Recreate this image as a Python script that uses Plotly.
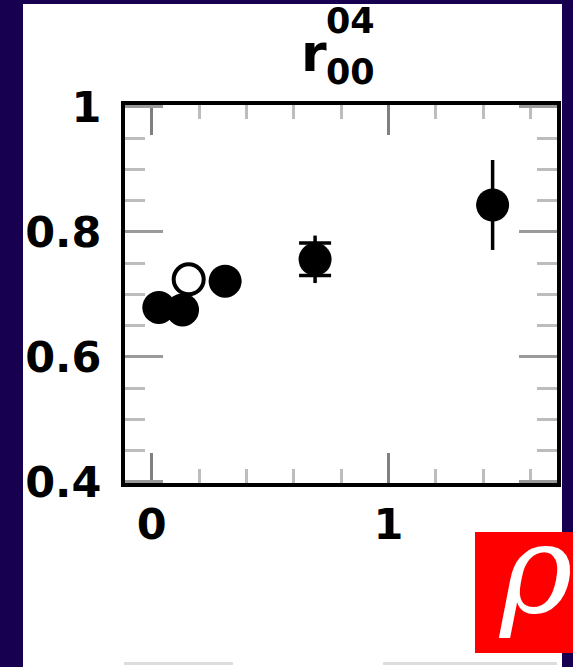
import plotly.graph_objects as go

# ---- data ----
x_filled = [0.03, 0.13, 0.31, 0.69, 1.44]
y_filled = [0.679, 0.675, 0.721, 0.756, 0.843]
err_total = [0.0, 0.0, 0.0, 0.038, 0.072]
err_stat = [0.0, 0.0, 0.0, 0.026, 0.0]

x_open = [0.156]
y_open = [0.724]

x_tickvals = [0, 1]
x_ticktext = ["0", "1"]
y_tickvals = [0.4, 0.6, 0.8, 1.0]
y_ticktext = ["0.4", "0.6", "0.8", "1"]

title_base = "r"
title_sup = "04"
title_sub = "00"
badge_text = "ρ"

# ---- style ----
NAVY = "#180050"
W, H = 573, 667
ML, MR, MT, MB = 125, 16, 105, 184
PW, PH = W - ML - MR, H - MT - MB


def px(xp):
    return (xp - ML) / PW


def py(yp):
    return (H - MB - yp) / PH


fig = go.Figure()

# total errors (thin, no caps)
fig.add_trace(go.Scatter(
    x=x_filled, y=y_filled, mode="markers",
    marker=dict(size=33, color="black", opacity=0),
    error_y=dict(type="data", array=err_total, visible=True, color="black",
                 thickness=3.5, width=0),
    showlegend=False, hoverinfo="skip"))

# statistical errors (with caps) + filled markers
fig.add_trace(go.Scatter(
    x=x_filled, y=y_filled, mode="markers",
    marker=dict(size=33, color="black", symbol="circle"),
    error_y=dict(type="data", array=err_stat, visible=True, color="black",
                 thickness=3.5, width=16),
    showlegend=False))

# open marker
fig.add_trace(go.Scatter(
    x=x_open, y=y_open, mode="markers",
    marker=dict(size=30, color="black", symbol="circle-open",
                line=dict(width=4, color="black")),
    showlegend=False))

tickfont = dict(family="DejaVu Sans", size=43, color="black", weight="bold")

fig.update_xaxes(
    range=[-0.113, 1.712], tickmode="array", tickvals=x_tickvals,
    ticktext=x_ticktext, ticks="inside", ticklen=30, tickwidth=3,
    tickcolor="#808080", showline=True, linewidth=4, linecolor="black",
    mirror="ticks", showgrid=False, zeroline=False, tickfont=tickfont,
    ticklabelstandoff=0,
    minor=dict(tickmode="linear", tick0=0, dtick=0.2, ticks="inside",
               ticklen=14, tickwidth=3, tickcolor="#bdbdbd", showgrid=False))

fig.update_yaxes(
    range=[0.398, 1.003], tickmode="array", tickvals=y_tickvals,
    ticktext=y_ticktext, ticks="inside", ticklen=38, tickwidth=3,
    tickcolor="#9a9a9a", showline=True, linewidth=4, linecolor="black",
    mirror="ticks", showgrid=False, zeroline=False, tickfont=tickfont,
    ticklabelstandoff=11,
    minor=dict(tickmode="linear", tick0=0.4, dtick=0.05, ticks="inside",
               ticklen=20, tickwidth=3, tickcolor="#bdbdbd", showgrid=False))

shapes = [
    # white panel inside the navy frame
    dict(type="rect", xref="paper", yref="paper", layer="below",
         x0=px(23), x1=px(562), y0=py(700), y1=py(4),
         fillcolor="white", line=dict(width=0)),
    # red badge
    dict(type="rect", xref="paper", yref="paper", layer="above",
         x0=px(475), x1=px(580), y0=py(653), y1=py(532),
         fillcolor="#ff0000", line=dict(width=0)),
    # grey lines at bottom
    dict(type="line", xref="paper", yref="paper",
         x0=px(124), x1=px(233), y0=py(663.5), y1=py(663.5),
         line=dict(color="#dddddd", width=3)),
    dict(type="line", xref="paper", yref="paper",
         x0=px(383), x1=px(557), y0=py(663.5), y1=py(663.5),
         line=dict(color="#dddddd", width=3)),
]

annotations = [
    dict(text=title_base, xref="paper", yref="paper", x=px(313.5), y=py(53),
         xanchor="center", yanchor="middle", showarrow=False,
         font=dict(family="DejaVu Sans", size=52, color="black", weight="bold")),
    dict(text=title_sup, xref="paper", yref="paper", x=px(350), y=py(21.5),
         xanchor="center", yanchor="middle", showarrow=False,
         font=dict(family="DejaVu Sans", size=35, color="black", weight="bold")),
    dict(text=title_sub, xref="paper", yref="paper", x=px(350), y=py(72.5),
         xanchor="center", yanchor="middle", showarrow=False,
         font=dict(family="DejaVu Sans", size=35, color="black", weight="bold")),
    dict(text=badge_text, xref="paper", yref="paper", x=px(496), y=py(569),
         xanchor="left", yanchor="middle", showarrow=False,
         font=dict(family="DejaVu Serif", size=124, color="white",
                   style="italic")),
]

fig.update_layout(
    width=W, height=H, margin=dict(l=ML, r=MR, t=MT, b=MB, pad=0),
    paper_bgcolor=NAVY, plot_bgcolor="white",
    shapes=shapes, annotations=annotations, showlegend=False)

fig.write_html(
    "out.html",
    config={"displayModeBar": False},
    post_script="document.body.style.margin='0';"
                "document.body.style.overflow='hidden';")
